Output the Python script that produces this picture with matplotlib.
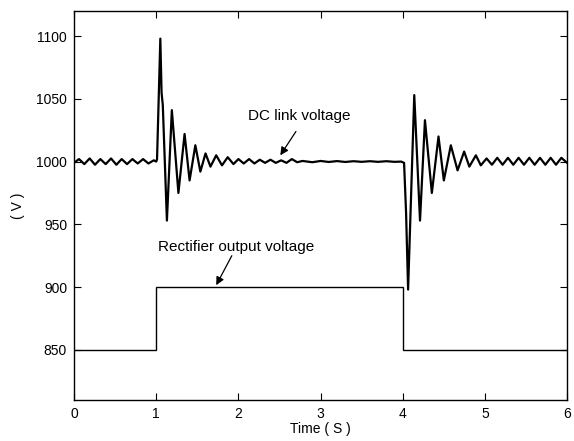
import matplotlib
matplotlib.use("Agg")
import matplotlib.pyplot as plt

plt.rcParams['font.family'] = ['Liberation Sans', 'DejaVu Sans']

# DC link voltage (peaks and troughs of the trace)
t_dc = [0.0, 0.06, 0.125, 0.19, 0.255, 0.32, 0.385, 0.45, 0.515, 0.58, 0.645,
        0.71, 0.775, 0.84, 0.905, 0.97, 1.0, 1.01, 1.05, 1.065, 1.08, 1.13,
        1.19, 1.27, 1.345, 1.406, 1.476, 1.537, 1.60, 1.66, 1.73, 1.80, 1.87,
        1.94, 2.0, 2.065, 2.13, 2.195, 2.26, 2.325, 2.39, 2.455, 2.52, 2.585,
        2.65, 2.715, 2.78, 2.9, 3.0, 3.1, 3.2, 3.3, 3.4, 3.5, 3.6, 3.7, 3.8,
        3.9, 3.98, 4.016, 4.04, 4.065, 4.14, 4.21, 4.27, 4.354, 4.435, 4.50,
        4.585, 4.667, 4.747, 4.81, 4.89, 4.95, 5.02, 5.085, 5.15, 5.215, 5.28,
        5.345, 5.41, 5.475, 5.54, 5.605, 5.67, 5.735, 5.80, 5.865, 5.93, 6.0]
v_dc = [999, 1002, 998, 1002.5, 997.5, 1002, 998, 1002.5, 997.5, 1002, 998,
        1002, 998.5, 1002, 998.5, 1001, 1000, 1002, 1098, 1055, 1045, 953,
        1041, 975, 1022, 985, 1013, 992, 1006.5, 996, 1005, 997, 1003.5,
        998, 1002, 998.5, 1002, 998.5, 1001.5, 999, 1001.5, 999, 1001, 999,
        1002, 999.5, 1000.5, 999.5, 1000.5, 999.7, 1000.4, 999.7, 1000.3,
        999.8, 1000.3, 999.8, 1000.3, 999.8, 1000, 999, 960, 898, 1053, 953,
        1033, 975, 1020, 985, 1013, 993, 1008, 996, 1005, 997, 1002.5, 997.5,
        1003, 997.5, 1003, 997.5, 1003, 997.5, 1003, 997.5, 1003, 997.5,
        1003, 997.5, 1003, 999]

# rectifier output voltage (step levels between switching instants)
rect_edges = [0, 1, 4, 6]
rect_levels = [850, 900, 850]

fig = plt.figure(figsize=(5.74, 4.41), dpi=100)
ax = fig.add_axes([0.129, 0.093, 0.859, 0.882])

ax.plot(t_dc, v_dc, color='black', lw=1.6)
ax.stairs(rect_levels, rect_edges, baseline=None, color='black', lw=1.0)

ax.set_xlim(0, 6)
ax.set_ylim(810, 1120)
ax.set_xticks(range(0, 7))
ax.set_yticks([850, 900, 950, 1000, 1050, 1100])
ax.tick_params(direction='in', length=5, top=True, right=True, labelsize=10,
               pad=5)
for s in ax.spines.values():
    s.set_linewidth(1.0)

ax.set_xlabel('Time ( S )', fontsize=10, labelpad=1)
ax.set_ylabel('( V )', fontsize=10, labelpad=8)

arrow = dict(arrowstyle='-|>', color='black', lw=0.9, mutation_scale=12,
             shrinkA=0, shrinkB=0)
ax.text(2.12, 1036, 'DC link voltage', fontsize=11, va='center')
ax.annotate('', xy=(2.51, 1005), xytext=(2.70, 1024), arrowprops=arrow)
ax.text(1.02, 932, 'Rectifier output voltage', fontsize=11, va='center')
ax.annotate('', xy=(1.73, 901.5), xytext=(1.92, 925), arrowprops=arrow)

fig.savefig('out.png', dpi=100)
